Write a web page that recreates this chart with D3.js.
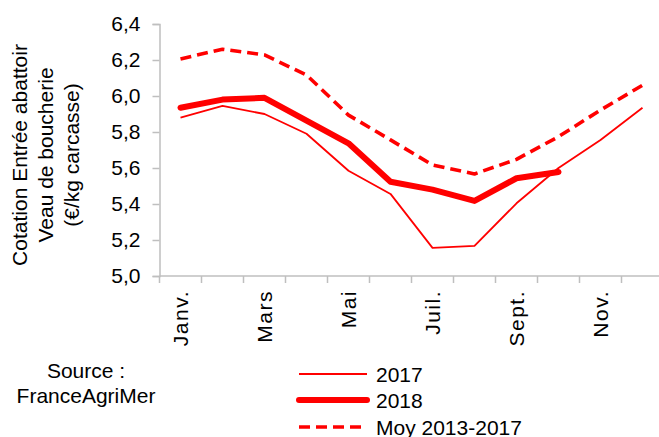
<!DOCTYPE html>
<html>
<head>
<meta charset="utf-8">
<script src="https://cdn.jsdelivr.net/npm/d3@7"></script>
<style>
  body { margin: 0; background: #fff; }
  svg text { font-family: "Liberation Sans", Arial, sans-serif; fill: #000; }
</style>
</head>
<body>
<svg id="chart" width="659" height="437"></svg>
<script>
const months = ["Janv.", "Févr.", "Mars", "Avr.", "Mai", "Juin", "Juil.", "Août", "Sept.", "Oct.", "Nov.", "Déc."];
const shownLabels = ["Janv.", "Mars", "Mai", "Juil.", "Sept.", "Nov."];
const yTicks = [5.0, 5.2, 5.4, 5.6, 5.8, 6.0, 6.2, 6.4];

const v2017 = [5.88, 5.945, 5.90, 5.79, 5.585, 5.456, 5.156, 5.167, 5.404, 5.60, 5.756, 5.935];
const v2018 = [5.935, 5.98, 5.99, 5.863, 5.737, 5.524, 5.48, 5.417, 5.543, 5.578];
const vMoy = [6.206, 6.26, 6.228, 6.117, 5.894, 5.756, 5.617, 5.567, 5.648, 5.774, 5.922, 6.06];

const series = [
  { name: "2017", values: v2017, width: 1.8, dash: null, cap: "butt" },
  { name: "2018", values: v2018, width: 6, dash: null, cap: "round" },
  { name: "Moy 2013-2017", values: vMoy, width: 3.6, dash: "11,6", cap: "butt" }
];

const svg = d3.select("#chart");
const plotLeft = 159.5, plotTop = 24, plotBottom = 276;
const axisColor = "#bfbfbf";

const x = d3.scaleBand().domain(months).range([plotLeft, plotLeft + 504]);
const y = d3.scaleLinear().domain([5.0, 6.4]).range([plotBottom, plotTop]);
const fmt = d => d3.format(".1f")(d).replace(".", ",");

// y axis
const yAxis = svg.append("g").attr("transform", `translate(${plotLeft},0)`)
  .call(d3.axisLeft(y).tickValues(yTicks).tickSize(7).tickPadding(12).tickFormat(fmt));
yAxis.select(".domain").attr("stroke", axisColor).attr("stroke-width", 1.5);
yAxis.selectAll(".tick line").attr("stroke", axisColor).attr("stroke-width", 1.5);
yAxis.selectAll("text").style("font-size", "21px").attr("fill", "#000");

// x axis: ticks at band boundaries
const xg = svg.append("g");
xg.append("line").attr("x1", plotLeft).attr("x2", 659).attr("y1", plotBottom).attr("y2", plotBottom)
  .attr("stroke", axisColor).attr("stroke-width", 1.5);
xg.selectAll("line.tk").data(months).join("line").attr("class", "tk")
  .attr("x1", d => x(d)).attr("x2", d => x(d))
  .attr("y1", plotBottom).attr("y2", plotBottom + 7)
  .attr("stroke", axisColor).attr("stroke-width", 1.5);
xg.selectAll("text").data(shownLabels).join("text")
  .attr("transform", d => `translate(${x(d) + x.bandwidth() / 2 + 7},${plotBottom + 14}) rotate(-90)`)
  .attr("text-anchor", "end")
  .style("font-size", "21px")
  .style("letter-spacing", "1.5px")
  .text(d => d);

// y title
const titleLines = ["Cotation Entrée abattoir", "Veau de boucherie", "(€/kg carcasse)"];
svg.append("g").attr("transform", "translate(27,155) rotate(-90)")
  .selectAll("text").data(titleLines).join("text")
  .attr("x", 0).attr("y", (d, i) => i * 26)
  .attr("text-anchor", "middle")
  .style("font-size", "21px")
  .text(d => d);

// lines
const line = d3.line().x((d, i) => x(months[i]) + x.bandwidth() / 2).y(d => y(d));
svg.selectAll("path.series").data(series).join("path").attr("class", "series")
  .attr("d", d => line(d.values))
  .attr("fill", "none")
  .attr("stroke", "#ff0000")
  .attr("stroke-width", d => d.width)
  .attr("stroke-dasharray", d => d.dash)
  .attr("stroke-linejoin", "round")
  .attr("stroke-linecap", d => d.cap);

// source
svg.selectAll("text.src").data(["Source :", "FranceAgriMer"]).join("text").attr("class", "src")
  .attr("x", 86).attr("y", (d, i) => 378 + i * 25)
  .attr("text-anchor", "middle")
  .style("font-size", "21px")
  .text(d => d);

// legend
const lg = svg.append("g");
const legY = [374, 400, 427];
series.forEach((s, i) => {
  lg.append("line").attr("x1", 299).attr("x2", 367).attr("y1", legY[i]).attr("y2", legY[i])
    .attr("stroke", "#ff0000").attr("stroke-width", s.width)
    .attr("stroke-dasharray", s.dash).attr("stroke-linecap", s.cap);
  lg.append("text").attr("x", 376).attr("y", legY[i] + 7.5)
    .style("font-size", "21px").text(s.name);
});
</script>
</body>
</html>
